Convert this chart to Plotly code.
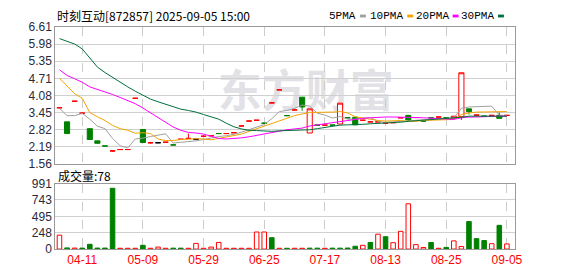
import plotly.graph_objects as go

W, H = 578, 276

# ---------------- data ----------------
tick_pos = [3, 11, 19, 27, 35, 43, 51, 59]
tick_labels = ["04-11", "05-09", "05-29", "06-25", "07-17", "08-13", "08-25", "09-05"]
price_ticks = ["1.56", "2.19", "2.82", "3.45", "4.08", "4.71", "5.35", "5.98", "6.61"]
vol_ticks = ["0", "248", "495", "743", "991"]

opens = [3.63, 3.11, 3.87, 3.43, 2.86, 2.41, 2.22, 2.04, 2.09, 2.09,
         3.98, 2.83, 2.34, 2.34, 2.36, 2.26, 2.47, 2.50, 2.47, 2.58,
         2.60, 2.68, 2.68, 2.71, 2.96, 3.14, 3.17, 3.06, 3.81, 4.29,
         3.34, 3.55, 4.02, 2.70, 2.99, 2.99, 2.99, 3.03, 3.26, 3.28,
         3.17, 3.11, 3.11, 3.06, 3.08, 3.26, 3.35, 3.27, 3.14, 3.26,
         3.29, 3.26, 3.24, 3.30, 3.59, 3.36, 3.32, 3.35, 3.35, 3.35]
highs = [3.66, 3.11, 3.87, 3.46, 2.86, 2.41, 2.22, 2.05, 2.09, 2.09,
         3.98, 2.83, 2.37, 2.34, 2.36, 2.26, 2.47, 2.68, 2.47, 2.62,
         2.60, 2.68, 2.68, 2.71, 2.96, 3.14, 3.17, 3.06, 3.81, 4.29,
         3.34, 3.55, 4.02, 3.59, 2.99, 2.99, 2.99, 3.80, 3.26, 3.28,
         3.17, 3.11, 3.11, 3.06, 3.08, 3.26, 3.35, 3.27, 3.14, 3.26,
         3.29, 3.26, 3.32, 4.92, 3.59, 3.36, 3.32, 3.35, 3.46, 3.35]
lows = [3.60, 2.68, 3.87, 3.40, 2.46, 2.32, 2.22, 2.00, 2.09, 2.09,
        3.98, 2.35, 2.31, 2.34, 2.36, 2.26, 2.47, 2.50, 2.47, 2.58,
        2.60, 2.68, 2.68, 2.71, 2.96, 3.14, 3.17, 3.06, 3.81, 4.29,
        3.34, 3.55, 3.52, 2.70, 2.99, 2.99, 2.99, 3.03, 3.26, 3.00,
        3.17, 3.11, 3.11, 3.06, 3.08, 3.26, 3.14, 3.27, 3.14, 3.26,
        3.29, 3.26, 3.24, 3.18, 3.38, 3.36, 3.32, 3.35, 3.24, 3.35]
closes = [3.63, 2.68, 3.87, 3.43, 2.46, 2.32, 2.22, 2.04, 2.09, 2.09,
          3.98, 2.35, 2.34, 2.34, 2.36, 2.26, 2.47, 2.50, 2.47, 2.58,
          2.60, 2.68, 2.68, 2.71, 2.96, 3.14, 3.17, 3.06, 3.81, 4.29,
          3.34, 3.55, 3.66, 3.59, 2.99, 2.99, 2.99, 3.80, 3.26, 3.00,
          3.17, 3.11, 3.11, 3.06, 3.08, 3.26, 3.18, 3.27, 3.14, 3.26,
          3.29, 3.26, 3.32, 4.92, 3.49, 3.36, 3.32, 3.35, 3.24, 3.35]
candle_color = ["r", "g", "r", "r", "g", "g", "g", "r", "r", "r",
                "r", "g", "r", "k", "r", "g", "r", "r", "k", "r",
                "r", "g", "r", "r", "r", "r", "r", "g", "r", "r",
                "g", "r", "g", "r", "g", "r", "g", "r", "g", "g",
                "r", "r", "r", "r", "r", "r", "g", "r", "g", "g",
                "r", "g", "r", "r", "g", "r", "g", "r", "g", "r"]

volumes = [210, 18, 15, 15, 72, 15, 15, 920, 12, 12,
           12, 57, 12, 30, 12, 14, 14, 12, 86, 12,
           30, 100, 12, 12, 12, 12, 258, 258, 172, 12,
           12, 12, 12, 14, 14, 12, 14, 14, 16, 43,
           57, 100, 225, 187, 96, 268, 685, 67, 24, 100,
           12, 25, 124, 38, 416, 158, 129, 81, 359, 78]
volume_color = ["r", "g", "r", "g", "g", "g", "g", "g", "r", "r",
                "r", "g", "r", "r", "r", "g", "g", "r", "r", "r",
                "r", "r", "r", "r", "r", "r", "r", "r", "g", "r",
                "g", "r", "r", "g", "g", "r", "g", "g", "g", "g",
                "r", "g", "r", "g", "r", "r", "r", "r", "r", "g",
                "r", "g", "r", "r", "g", "g", "g", "r", "g", "r"]

ma5 = [3.61, 3.34, 3.34, 3.42, 3.21, 2.95, 2.86, 2.50, 2.23, 2.15,
       2.48, 2.51, 2.57, 2.62, 2.67, 2.33, 2.35, 2.39, 2.41, 2.46,
       2.52, 2.57, 2.60, 2.65, 2.73, 2.83, 2.93, 3.01, 3.23, 3.49,
       3.53, 3.61, 3.73, 3.69, 3.43, 3.36, 3.25, 3.31, 3.21, 3.21,
       3.25, 3.27, 3.13, 3.09, 3.11, 3.12, 3.14, 3.17, 3.19, 3.22,
       3.23, 3.24, 3.25, 3.61, 3.66, 3.67, 3.68, 3.69, 3.35, 3.32]
ma10 = [4.72, 4.45, 4.15, 3.98, 3.45, 3.30, 3.16, 2.98, 2.86, 2.80,
        2.69, 2.71, 2.68, 2.48, 2.42, 2.42, 2.46, 2.47, 2.49, 2.48,
        2.45, 2.50, 2.55, 2.60, 2.66, 2.76, 2.86, 2.95, 3.05, 3.15,
        3.25, 3.34, 3.40, 3.46, 3.46, 3.46, 3.47, 3.49, 3.44, 3.30,
        3.25, 3.20, 3.16, 3.14, 3.15, 3.16, 3.13, 3.13, 3.16, 3.17,
        3.17, 3.17, 3.20, 3.38, 3.44, 3.47, 3.48, 3.49, 3.49, 3.49]
ma20 = [5.03, 4.82, 4.70, 4.57, 4.40, 4.31, 4.21, 4.12, 4.01, 3.89,
        3.78, 3.62, 3.45, 3.28, 3.10, 2.92, 2.80, 2.72, 2.70, 2.66,
        2.58, 2.50, 2.48, 2.49, 2.52, 2.56, 2.61, 2.66, 2.72, 2.78,
        2.82, 2.85, 2.88, 2.96, 3.00, 3.04, 3.09, 3.14, 3.18, 3.22,
        3.24, 3.26, 3.28, 3.29, 3.29, 3.29, 3.29, 3.27, 3.26, 3.24,
        3.22, 3.21, 3.20, 3.26, 3.29, 3.29, 3.29, 3.31, 3.32, 3.32]
ma30 = [6.18, 6.07, 5.98, 5.80, 5.48, 5.13, 4.93, 4.75, 4.56, 4.40,
        4.24, 4.08, 3.95, 3.85, 3.76, 3.68, 3.58, 3.53, 3.47, 3.38,
        3.30, 3.21, 3.06, 2.93, 2.85, 2.80, 2.79, 2.77, 2.76, 2.78,
        2.79, 2.79, 2.79, 2.82, 2.86, 2.91, 2.95, 2.99, 3.00, 3.00,
        3.02, 3.04, 3.05, 3.06, 3.08, 3.10, 3.13, 3.15, 3.18, 3.20,
        3.23, 3.24, 3.25, 3.28, 3.32, 3.32, 3.33, 3.34, 3.33, 3.32]

ma_names = ["5PMA", "10PMA", "20PMA", "30PMA"]
ma_series = [ma5, ma10, ma20, ma30]

# ---------------- styles ----------------
RED = "#ff0000"
GREEN = "#008000"
ma_colors = ["#a0a0a0", "#f5a300", "#ff00ff", "#00703c"]
N = len(closes)
idx = list(range(N))

fig = go.Figure()

# candles
styles = {"r": (RED, "#ffffff"), "g": (GREEN, GREEN), "k": ("#000000", "#000000")}
for key, (lc, fc) in styles.items():
    sel = [i for i in idx if candle_color[i] == key]
    fig.add_trace(go.Candlestick(
        x=sel,
        open=[opens[i] for i in sel], high=[highs[i] for i in sel],
        low=[lows[i] for i in sel], close=[closes[i] for i in sel],
        increasing=dict(line=dict(color=lc, width=1), fillcolor=fc),
        decreasing=dict(line=dict(color=lc, width=1), fillcolor=fc),
        whiskerwidth=0, xaxis="x", yaxis="y", showlegend=False, hoverinfo="skip"))

# moving averages
for name, series, col in zip(ma_names, ma_series, ma_colors):
    fig.add_trace(go.Scatter(x=idx, y=series, mode="lines", name=name,
                             line=dict(color=col, width=1), xaxis="x", yaxis="y",
                             showlegend=False, hoverinfo="skip"))

# volume
vstyles = {"r": (RED, "#ffffff"), "g": (GREEN, GREEN)}
for key, (lc, fc) in vstyles.items():
    sel = [i for i in idx if volume_color[i] == key]
    fig.add_trace(go.Bar(x=sel, y=[volumes[i] for i in sel], width=0.6,
                         marker=dict(color=fc, line=dict(color=lc, width=1)),
                         xaxis="x2", yaxis="y2", showlegend=False, hoverinfo="skip"))

# ---------------- layout ----------------
def px(x):
    return x / W

def py(y):
    return 1 - y / H

xdom = [px(56), px(522)]
xrange_ = [-0.56, 60.04]
axis_font = dict(family="Liberation Sans, Arial, sans-serif", size=12, color="#2a2a3a")

common_x = dict(domain=xdom, range=xrange_, tickmode="array", tickvals=tick_pos,
                showgrid=True, gridcolor="#cccccc", griddash="dash", gridwidth=1,
                showline=True, mirror=True, linecolor="#999999", linewidth=1,
                zeroline=False, ticks="", fixedrange=True)
common_y = dict(showgrid=True, gridcolor="#d0d0d0", gridwidth=1, showline=True,
                mirror=True, linecolor="#999999", linewidth=1, zeroline=False,
                ticks="", tickfont=axis_font, fixedrange=True)

fig.update_layout(
    width=W, height=H, margin=dict(l=0, r=0, t=0, b=0),
    paper_bgcolor="#ffffff", plot_bgcolor="rgba(0,0,0,0)",
    barmode="overlay", boxgap=0.1, boxgroupgap=0.25,
    xaxis=dict(anchor="y", showticklabels=False, rangeslider=dict(visible=False), **common_x),
    yaxis=dict(domain=[py(165.3), py(21)], range=[1.56, 6.61], tickmode="array",
               tickvals=[float(t) for t in price_ticks], ticktext=price_ticks, **common_y),
    xaxis2=dict(anchor="y2", ticktext=tick_labels, showticklabels=True,
                tickfont=dict(family="Liberation Sans, Arial, sans-serif", size=12, color=RED),
                **common_x),
    yaxis2=dict(domain=[py(255), py(186)], range=[0, 991], tickmode="array",
                tickvals=[0, 247.75, 495.5, 743.25, 991], ticktext=vol_ticks, **common_y),
)

annotations = [
    dict(x=px(56), y=py(9), xref="paper", yref="paper", xanchor="left", yanchor="middle",
         text="时刻互动[872857] 2025-09-05 15:00", showarrow=False,
         font=dict(family="Noto Sans CJK SC", size=12, color="#000000")),
    dict(x=px(57), y=py(177), xref="paper", yref="paper", xanchor="left", yanchor="middle",
         text=f"成交量:{volumes[-1]}", showarrow=False,
         font=dict(family="Noto Sans CJK SC", size=12, color="#000000")),
]
shapes = []
legend_sq_x = [365, 413, 459, 505]
for name, col, sx in zip(ma_names, ma_colors, legend_sq_x):
    annotations.append(dict(x=px(sx - 2), y=py(9), xref="paper", yref="paper",
                            xanchor="right", yanchor="middle", text=name, showarrow=False,
                            font=dict(family="Liberation Mono, monospace", size=11, color="#000000")))
    shapes.append(dict(type="rect", xref="paper", yref="paper", x0=px(sx), x1=px(sx + 6),
                       y0=py(11), y1=py(8), fillcolor=col, line=dict(width=0)))

# watermark
shapes.append(dict(type="rect", xref="paper", yref="paper", x0=px(230), x1=px(390),
                   y0=py(112), y1=py(74), line=dict(width=0), fillcolor="rgba(0,0,0,0)",
                   layer="below",
                   label=dict(text="东方财富", textposition="middle center",
                              font=dict(family="Noto Sans CJK SC", size=44, color="#e2e2e6",
                                        weight=700))))

fig.update_layout(annotations=annotations, shapes=shapes)
fig.write_html("out.html")
